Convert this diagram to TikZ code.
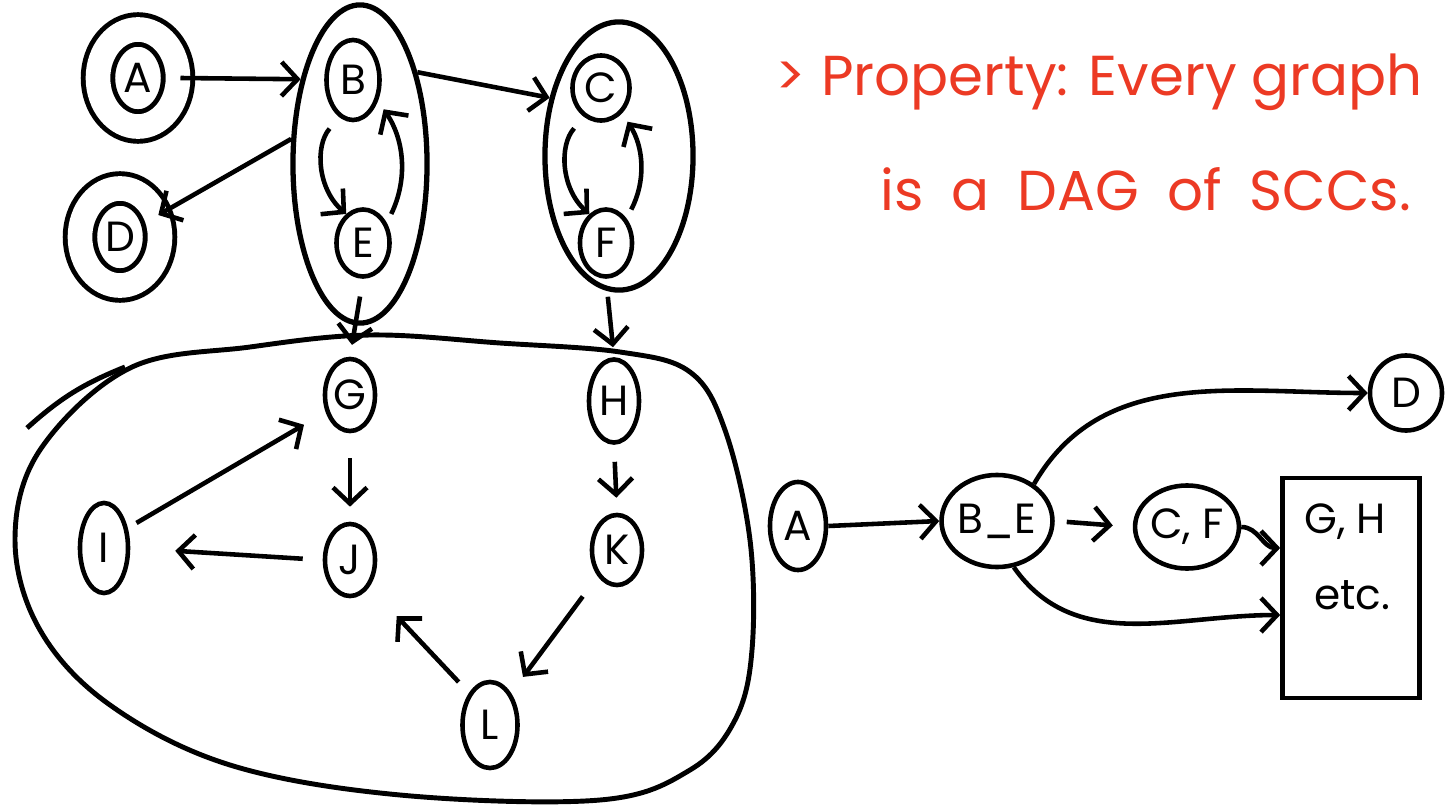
\documentclass[tikz,border=0pt]{standalone}
\usepackage{fontspec}
\setmainfont{Poppins}
\usetikzlibrary{arrows.meta,shapes.geometric}
\definecolor{inkred}{RGB}{236,58,36}
\tikzset{
 vtx/.style={draw,ellipse,line width=1.3pt,inner sep=0pt,minimum width=0.5cm,
             minimum height=0.72cm,font=\fontsize{12}{14}\selectfont},
 src/.style={vtx,double,double distance=7pt,line width=1.4pt,minimum width=0.8cm,minimum height=0.97cm},
 scc/.style={draw,ellipse,line width=1.5pt,inner sep=0pt},
 blob/.style={line width=1.4pt},
 arc/.style={-{Straight Barb[length=1.6mm,width=3.4mm]},line width=1.3pt},
 remark/.style={text=inkred,font=\fontsize{16}{20}\selectfont,inner sep=0pt},
}

\begin{document}
\begin{tikzpicture}[x=0.01cm,y=0.01cm]
\useasboundingbox (0,0) rectangle (1448,-806);
\node[src] (A) at (138,-78) {A};
\node[src] (D) at (120,-237) {D};
\node[vtx,minimum width=0.53cm,minimum height=0.8cm] (B) at (353,-80) {B};
\node[vtx,minimum width=0.53cm,minimum height=0.67cm] (E) at (363,-243) {E};
\node[vtx,minimum width=0.57cm,minimum height=0.65cm] (C) at (601,-88) {C};
\node[vtx,minimum width=0.52cm,minimum height=0.67cm] (F) at (606,-243) {F};
\node[scc,minimum width=1.34cm,minimum height=3.18cm] (sccBE) at (360,-164) {};
\node[scc,minimum width=1.48cm,minimum height=2.68cm] (sccCF) at (619,-156) {};
\node[vtx] (G) at (350,-395) {G};
\node[vtx,minimum height=0.83cm] (H) at (614,-401) {H};
\node[vtx,minimum width=0.48cm,minimum height=0.9cm] (I) at (104,-548) {I};
\node[vtx] (J) at (350,-560) {J};
\node[vtx,minimum height=0.7cm] (K) at (617,-550) {K};
\node[vtx,minimum width=0.55cm,minimum height=0.86cm] (L) at (490,-725) {L};
\draw[blob] plot[smooth cycle,tension=0.6] coordinates {(130,-368) (250,-347) (370,-335)
  (500,-343) (620,-352) (690,-372) (725,-430) (750,-540) (752,-650) (735,-720) (690,-770)
  (600,-800) (400,-795) (230,-765) (110,-705) (40,-630) (15,-540) (40,-450)};
\draw[blob] (27,-428) to[bend left=10] (125,-367);

\draw[arc] (A.east) -- (sccBE.125);
\draw[arc] (sccBE.58) -- (sccCF.140);
\draw[arc] (sccBE.160) -- (D);
\draw[arc,shorten <=0.15cm] (B.250) to[bend right=45] (E.120);
\draw[arc,shorten <=0.1cm,shorten >=0.1cm] (E.40) to[bend right=30] (B.320);
\draw[arc,shorten <=0.15cm] (C.240) to[bend right=45] (F.120);
\draw[arc,shorten <=0.1cm,shorten >=0.1cm] (F.50) to[bend right=30] (C.310);
\draw[arc,shorten <=0.18cm,shorten >=0.12cm] (E.south) -- (G.north);
\draw[arc,shorten <=0.18cm,shorten >=0.1cm] (F.south) -- (H.north);
\draw[arc,shorten <=0.25cm,shorten >=0.15cm] (G.south) -- (J.north);
\draw[arc,shorten <=0.17cm,shorten >=0.15cm] (H.south) -- (K.north);
\draw[arc,shorten <=0.1cm,shorten >=0.25cm] (I.40) -- (G.215);
\draw[arc,shorten <=0.2cm,shorten >=0.45cm] (J.west) -- (I.east);
\draw[arc,shorten <=0.25cm,shorten >=0.2cm] (K.south west) -- (L.north east);
\draw[arc,shorten <=0.15cm,shorten >=0.4cm] (L.north west) -- (J.south east);

\node[vtx,minimum width=0.56cm,minimum height=0.88cm] (A2) at (798,-526) {A};
\node[vtx,minimum width=1.09cm,minimum height=0.92cm] (BE2) at (997,-521) {B\_E};
\node[vtx,minimum width=1.0cm,minimum height=0.83cm] (CF2) at (1187,-527) {C, F};
\node[vtx,minimum width=0.72cm,minimum height=0.75cm] (D2) at (1406,-393) {D};
\node[draw,line width=1.3pt,minimum width=1.37cm,minimum height=2.2cm] (rest) at (1351,-588) {};
\node[font=\fontsize{12}{14}\selectfont,anchor=west] (gh) at (1292,-522) {G, H};
\node[font=\fontsize{12}{14}\selectfont] (etc) at (1352,-595) {etc.};
\draw[arc] (A2.east) -- (BE2.west);
\draw[arc,shorten <=0.12cm,shorten >=0.2cm] (BE2.east) -- (CF2.west);
\draw[arc] (CF2.east) to[out=0,in=180] ([yshift=0.4cm]rest.west);
\draw[arc] (BE2.45) to[out=60,in=180] (D2.west);
\draw[arc] (BE2.290) to[out=-55,in=180] ([yshift=-0.27cm]rest.west);

\node[remark,anchor=base west] (prop) at (775,-95) {> Property: Every graph};
\node[remark,anchor=base west] (dag) at (880,-210) {\makebox[5.3cm][s]{is a DAG of SCCs.}};
\end{tikzpicture}
\end{document}
